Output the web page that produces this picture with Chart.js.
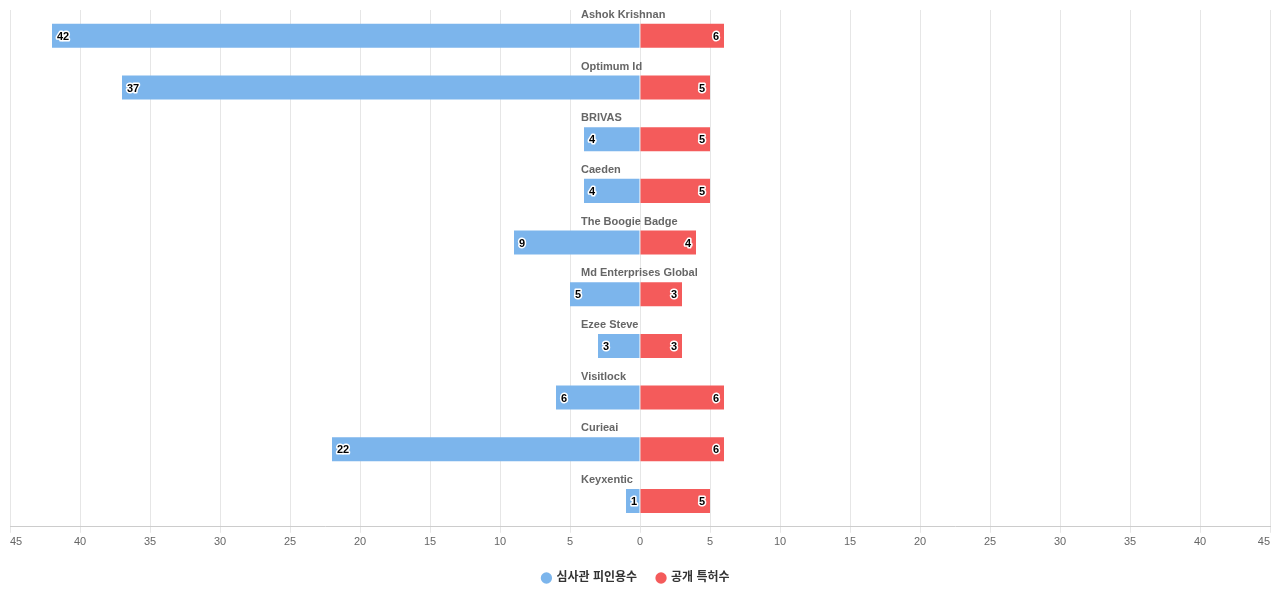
<!DOCTYPE html>
<html>
<head>
<meta charset="utf-8">
<script src="https://cdn.jsdelivr.net/npm/chart.js@4"></script>
<style>
  body { margin: 0; background: #fff; }
  #wrap { width: 1280px; height: 600px; }
</style>
</head>
<body>
<div id="wrap"><canvas id="c"></canvas></div>
<script>
const categories = ['Ashok Krishnan', 'Optimum Id', 'BRIVAS', 'Caeden', 'The Boogie Badge',
    'Md Enterprises Global', 'Ezee Steve', 'Visitlock', 'Curieai', 'Keyxentic'];
const examinerCounts = [42, 37, 4, 4, 9, 5, 3, 6, 22, 1];
const publishedCounts = [6, 5, 5, 5, 4, 3, 3, 6, 6, 5];
const seriesNames = ['심사관 피인용수', '공개 특허수'];

const font = 'Helvetica, Arial, "Liberation Sans", "Noto Sans CJK KR", sans-serif';

// category names drawn above each bar, near the zero line, plus value labels
const categoryLabels = {
    id: 'categoryLabels',
    afterDatasetsDraw(chart) {
        const { ctx, scales: { x, y } } = chart;
        ctx.save();
        ctx.font = 'bold 11px ' + font;
        ctx.fillStyle = '#666666';
        ctx.textAlign = 'left';
        ctx.textBaseline = 'middle';
        categories.forEach((name, i) => {
            ctx.fillText(name, x.getPixelForValue(0) - 59, y.getPixelForValue(i) - 21);
        });
        ctx.lineWidth = 3;
        ctx.lineJoin = 'round';
        ctx.strokeStyle = '#ffffff';
        ctx.fillStyle = '#000000';
        chart.data.datasets.forEach((ds, di) => {
            chart.getDatasetMeta(di).data.forEach((bar, i) => {
                const text = String(Math.abs(ds.data[i]));
                const yy = bar.y + 1;
                let xx;
                if (di === 0) { ctx.textAlign = 'left'; xx = bar.x + 5; }
                else { ctx.textAlign = 'right'; xx = bar.x - 5; }
                ctx.strokeText(text, xx, yy);
                ctx.fillText(text, xx, yy);
            });
        });
        ctx.restore();
    }
};

new Chart(document.getElementById('c'), {
    type: 'bar',
    data: {
        labels: categories,
        datasets: [
            { label: seriesNames[0], data: examinerCounts.map(v => -v), backgroundColor: '#7cb5ec' },
            { label: seriesNames[1], data: publishedCounts, backgroundColor: '#f45b5b' }
        ]
    },
    options: {
        indexAxis: 'y',
        responsive: true,
        maintainAspectRatio: false,
        animation: false,
        layout: { padding: { left: 2, right: 10, top: 10, bottom: 6 } },
        datasets: { bar: { categoryPercentage: 0.93, barPercentage: 0.5 } },
        scales: {
            x: {
                stacked: true,
                min: -45, max: 45,
                ticks: {
                    stepSize: 5,
                    align: 'inner',
                    color: '#666666',
                    font: { size: 11, family: font },
                    callback: v => Math.abs(v)
                },
                grid: { color: '#e6e6e6', tickLength: 6 },
                border: { color: '#cccccc' }
            },
            y: {
                stacked: true,
                ticks: { display: false },
                grid: { display: false },
                border: { display: false }
            }
        },
        plugins: {
            legend: {
                position: 'bottom',
                labels: {
                    usePointStyle: true,
                    pointStyle: 'circle',
                    boxWidth: 8, boxHeight: 8,
                    padding: 20,
                    color: '#333333',
                    font: { size: 12, weight: 'bold', family: font }
                }
            },
            tooltip: { enabled: false }
        }
    },
    plugins: [categoryLabels]
});
</script>
</body>
</html>
